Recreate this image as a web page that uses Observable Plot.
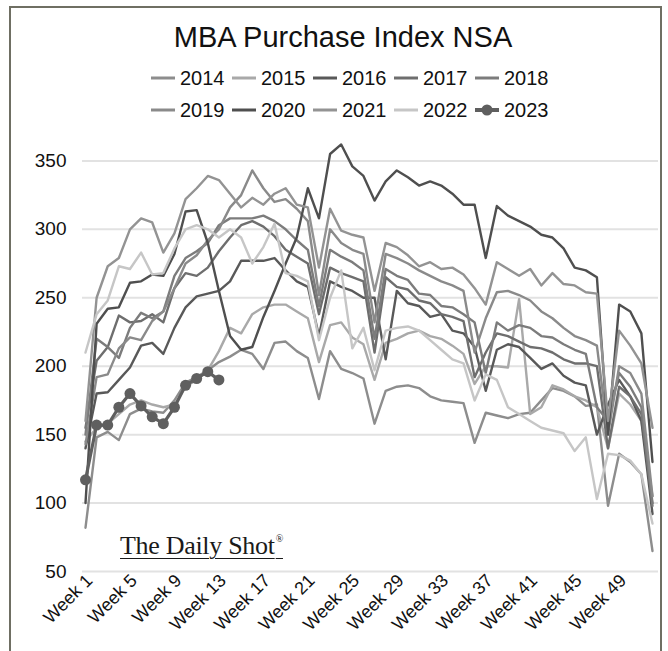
<!DOCTYPE html>
<html>
<head>
<meta charset="utf-8">
<script src="https://cdn.jsdelivr.net/npm/d3@7"></script>
<script src="https://cdn.jsdelivr.net/npm/@observablehq/plot@0.6"></script>
<style>
  html, body { margin: 0; padding: 0; background: #fff; }
  body { font-family: "Liberation Sans", Arial, Helvetica, sans-serif; color: #111; }
  #wrap { position: relative; width: 668px; height: 651px; overflow: hidden; background: #fff; }
  #frame { position: absolute; left: 9px; top: 6px; width: 653px; height: 700px; border: 2px solid #6f6f63; box-sizing: border-box; }
  #title { position: absolute; top: 21px; left: 0; width: 686px; text-align: center; font-size: 29px; color: #111; }
  .leg { position: absolute; display: flex; align-items: center; font-size: 20px; color: #111; height: 24px; }
  .leg svg { margin-right: 4px; }
  #chart { position: absolute; left: 0; top: 125px; }
  #wm { position: absolute; left: 120px; top: 531px; font-family: "Liberation Serif", "Times New Roman", serif; font-size: 26px; color: #1a1a1a; text-decoration: underline; text-decoration-thickness: 1px; text-underline-offset: 4px; letter-spacing: -0.3px; }
  #wm sup { font-size: 10px; text-decoration: none; vertical-align: 12px; margin-left: 1px; }
</style>
</head>
<body>
<div id="wrap">
  <div id="frame"></div>
  <div id="title">MBA Purchase Index NSA</div>
  <div id="legend"></div>
  <div id="chart"></div>
  <div id="wm">The Daily Shot<sup>®</sup></div>
</div>
<script>
// ---- data ----
const years = ["2014","2015","2016","2017","2018","2019","2020","2021","2022","2023"];
const colors = ["#8d8d8d","#a9a9a9","#595959","#6e6e6e","#7c7c7c","#8a8a8a","#4f4f4f","#939393","#c6c6c6","#5f5f5f"];
const weekTicks = [1,5,9,13,17,21,25,29,33,37,41,45,49];
const yTicks = [50,100,150,200,250,300,350];

const v2014 = [82,148,152,146,165,169,167,166,175,188,192,197,203,207,212,209,198,217,218,211,206,176,211,198,195,191,158,182,185,186,184,178,175,174,173,144,166,164,162,165,166,175,184,182,178,171,172,98,136,130,121,65];
const v2015 = [145,155,158,165,172,175,172,170,172,185,190,197,211,228,224,238,243,245,245,240,235,203,230,232,221,216,190,217,220,224,226,222,220,215,209,187,200,200,199,249,165,170,186,183,178,175,170,140,180,172,160,105];
const v2016 = [140,180,181,190,199,215,217,209,228,243,251,253,255,262,277,277,277,279,270,262,258,222,262,258,255,250,250,205,255,246,244,236,238,226,224,214,182,212,216,214,206,198,202,193,188,186,150,172,190,178,160,92];
const v2017 = [155,204,214,237,232,233,238,232,257,268,266,272,284,294,303,306,302,295,285,280,275,238,272,268,265,262,210,265,258,256,248,246,238,236,233,192,210,224,222,218,214,213,210,205,202,202,200,140,185,178,165,100];
const v2018 = [150,220,214,206,228,239,235,240,266,279,284,290,303,308,308,308,310,306,300,292,285,244,285,280,276,270,220,271,266,263,253,252,244,243,238,232,195,232,226,230,228,222,221,216,212,209,170,160,195,185,170,98];
const v2019 = [143,192,194,213,221,219,233,240,257,275,281,292,300,316,325,343,330,320,322,315,306,252,300,290,285,282,232,282,279,275,270,266,262,259,255,210,235,254,255,252,248,240,235,228,222,219,215,150,200,195,180,105];
const v2020 = [100,231,242,243,261,262,267,266,282,313,314,290,255,222,212,214,236,255,275,294,330,308,355,362,346,339,321,335,343,338,332,335,332,326,318,318,279,317,310,306,302,296,294,286,272,270,265,150,245,240,224,130];
const v2021 = [160,250,273,279,300,308,305,283,297,322,330,339,336,326,316,323,318,326,330,318,316,272,315,299,296,294,255,290,287,281,273,276,271,272,267,257,245,276,271,266,271,259,268,260,259,254,253,160,226,215,202,155];
const v2022 = [210,238,248,273,271,283,267,268,286,300,303,300,294,300,294,275,287,304,268,266,262,219,250,270,213,228,197,226,228,229,226,219,212,205,202,175,194,190,170,165,160,155,153,151,138,148,103,136,135,131,121,85];
const v2023 = [117,157,157,170,180,171,163,158,170,186,191,196,190];

const seriesValues = [v2014,v2015,v2016,v2017,v2018,v2019,v2020,v2021,v2022,v2023];

// ---- tidy table built from the arrays ----
const rows = [];
years.forEach((yr, i) => seriesValues[i].forEach((v, j) => rows.push({year: yr, week: j + 1, value: v})));
const past = rows.filter(d => d.year !== "2023");
const cur = rows.filter(d => d.year === "2023");

// ---- legend ----
const legend = document.getElementById("legend");
years.forEach((yr, i) => {
  const row = Math.floor(i / 5), col = i % 5;
  const el = document.createElement("div");
  el.className = "leg";
  el.style.left = (150 + col * 81) + "px";
  el.style.top = (66 + row * 32) + "px";
  const dot = yr === "2023" ? `<circle cx="13" cy="12" r="5.5" fill="${colors[i]}"/>` : "";
  const sw = yr === "2023" ? 4 : 3;
  el.innerHTML = `<svg width="26" height="24"><line x1="1" x2="25" y1="12" y2="12" stroke="${colors[i]}" stroke-width="${sw}"/>${dot}</svg><span>${yr}</span>`;
  legend.appendChild(el);
});

// ---- chart ----
const chart = Plot.plot({
  width: 668,
  height: 526,
  marginLeft: 82,
  marginRight: 10,
  marginTop: 8,
  marginBottom: 80,
  style: {fontFamily: "'Liberation Sans', Arial, sans-serif", color: "#111", background: "transparent"},
  x: {domain: [0.73, 52.54]},
  y: {domain: [50, 370]},
  color: {domain: years, range: colors},
  marks: [
    Plot.gridY(yTicks, {stroke: "#e2e2e2", strokeOpacity: 1, strokeWidth: 2}),
    Plot.axisY(yTicks, {tickSize: 0, tickPadding: 16, fontSize: 19, label: null, fill: "#111"}),
    Plot.axisX(weekTicks, {tickSize: 0, tickPadding: 6, tickRotate: -45, fontSize: 18, label: null, fill: "#111",
      dx: 4, tickFormat: d => "Week " + d}),
    Plot.line(past, {x: "week", y: "value", z: "year", stroke: "year", strokeWidth: 2.4, strokeLinejoin: "round"}),
    Plot.line(cur, {x: "week", y: "value", stroke: "year", strokeWidth: 3.2}),
    Plot.dot(cur, {x: "week", y: "value", fill: "year", r: 5.5})
  ]
});
document.getElementById("chart").appendChild(chart);
</script>
</body>
</html>
